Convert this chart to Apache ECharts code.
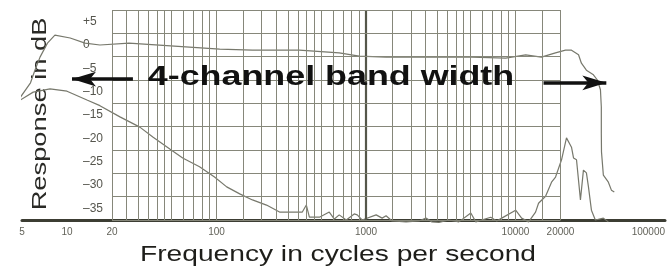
<!DOCTYPE html>
<html>
<head>
<meta charset="utf-8">
<script src="https://cdn.jsdelivr.net/npm/echarts@6/dist/echarts.min.js"></script>
<style>
  html, body { margin: 0; padding: 0; background: #fff; }
  #chart { width: 668px; height: 270px; }
</style>
</head>
<body>
<div id="chart"></div>
<script>
// response curves (Hz / dB)
var mainFreq = [3.9, 4.05, 4.4, 4.9, 5.7, 6.1, 6.6, 7.4, 8.3, 10.5, 13.2, 16.6, 26, 105, 174, 358, 662, 900, 1360, 2260, 5100, 8600, 11700, 14900, 18500, 21600, 23700, 26400, 27600, 29800, 33200, 35300, 37000, 37500, 37500, 37600, 38700, 41800, 43800, 45800];
var mainDb = [-14.6, -12.2, -13.3, -11.1, -8.1, -5.4, -2.6, 0.4, 2.1, 1.5, 0.4, 0, 0.4, -0.9, -1.1, -1.1, -1.7, -2.4, -2.6, -2.6, -2.6, -2.8, -2.1, -2.6, -1.7, -1.1, -1.1, -2.1, -3.9, -5.4, -6.4, -7.5, -9.6, -13.3, -18.9, -22.9, -27.9, -29.4, -31.1, -31.5];

var lowFreq = [4.87, 5.94, 7.7, 10, 13.6, 16.6, 22.6, 30.7, 37.5, 48.7, 59.4, 77, 97, 117, 143, 174, 216, 264, 307, 375, 399, 418, 488, 568, 614, 662, 738, 834, 874, 942, 1169, 1282, 1362, 1494, 1853, 2260, 2518, 2761, 3076, 3584, 4180, 5024, 5425, 6830, 7490, 8090, 10020, 10990, 12240, 13620, 14260, 15890, 17420, 18530, 20320, 21930, 23690, 24440, 25590, 27190, 28470, 29810, 30760, 32200, 34200, 38700, 41800];
var lowDb = [-11.8, -10.1, -9.4, -9.9, -11.8, -13, -15.4, -17.6, -19.7, -22.3, -24.2, -26.1, -28.3, -30.4, -31.9, -33.2, -34.3, -35.8, -35.8, -35.8, -34.3, -36.9, -36.9, -35.8, -37.3, -36.4, -37.5, -36.2, -36.4, -37.5, -36.4, -37.1, -36.6, -37.7, -37.9, -37.7, -37.1, -37.9, -38, -37.5, -37.9, -36, -37.9, -36.9, -37.7, -37.1, -35.4, -37.1, -37.9, -35.8, -33.9, -32.4, -29.4, -28.3, -24.6, -19.9, -21.9, -24.2, -24.6, -33.2, -26.8, -27.4, -30.4, -35.4, -37.5, -37.1, -37.9];

var freqLabels = [5, 10, 20, 100, 1000, 10000, 20000, 100000];
var dbLabels = [5, 0, -5, -10, -15, -20, -25, -30, -35];

// graph paper: log columns 20 Hz..20 kHz, rows every 5 dB (offset half a step)
var paperSteps = [1, 1.5, 2, 2.5, 3, 3.5, 4, 4.5, 5, 6, 7, 8, 9];
var paperDecades = [10, 100, 1000, 10000];
var paperRows = [7.5, 2.5, -2.5, -7.5, -12.5, -17.5, -22.5, -27.5, -32.5, -37.5];
var paperFrom = 20, paperTo = 20000;

// the two band-width arrows: [tail freq, head freq, dB]
var arrowLeft = [27.6, 10.8, -7.3];
var arrowRight = [15400, 40500, -8.1];

function pairs(xs, ys) {
  return xs.map(function (x, i) { return [x, ys[i]]; });
}

var paperLines = [];
paperDecades.forEach(function (d) {
  paperSteps.forEach(function (s) {
    var f = d * s;
    if (f >= paperFrom && f <= paperTo) {
      paperLines.push([
        { coord: [f, paperRows[0]], lineStyle: { width: f === 1000 ? 2.2 : 1, color: f === 1000 ? '#55574a' : '#86877a' } },
        { coord: [f, paperRows[paperRows.length - 1]] }
      ]);
    }
  });
});
paperLines.push([{ coord: [paperTo, paperRows[0]] }, { coord: [paperTo, paperRows[paperRows.length - 1]] }]);
paperRows.forEach(function (r) {
  paperLines.push([{ coord: [paperFrom, r] }, { coord: [paperTo, r] }]);
});

var chart = echarts.init(document.getElementById('chart'), null, { renderer: 'canvas' });
chart.setOption({
  animation: false,
  backgroundColor: '#fff',
  textStyle: { fontFamily: 'Liberation Sans' },
  grid: { left: 22, right: 1, top: 10, bottom: 50 },
  xAxis: {
    type: 'log',
    logBase: 10,
    min: 5,
    max: 100000,
    axisLine: { show: true, onZero: false, lineStyle: { color: '#3c3d33', width: 3 } },
    axisTick: { show: false },
    splitLine: { show: false },
    axisLabel: {
      customValues: freqLabels,
      fontSize: 10,
      color: '#626259',
      margin: 7,
      alignMaxLabel: 'right',
      formatter: function (v) { return String(Math.round(v)); }
    }
  },
  yAxis: {
    type: 'value',
    min: -37.5,
    max: 7.5,
    axisLine: { show: false },
    axisTick: { show: false },
    splitLine: { show: false },
    axisLabel: {
      inside: true,
      margin: 61,
      customValues: dbLabels,
      fontSize: 12,
      color: '#55554d',
      formatter: function (v) {
        if (v > 0) return '+' + v;
        if (v < 0) return '\u2013' + (-v);
        return '0';
      }
    }
  },
  graphic: [
    {
      type: 'text', x: 40, y: 114, rotation: Math.PI / 2, scaleX: 1.3,
      style: { text: 'Response in dB', font: '21px "Liberation Sans"', fill: '#2a2a26', textAlign: 'center', textVerticalAlign: 'middle' }
    },
    {
      type: 'text', x: 338, y: 255, scaleX: 1.28,
      style: { text: 'Frequency in cycles per second', font: '22px "Liberation Sans"', fill: '#1e1e1a', textAlign: 'center', textVerticalAlign: 'middle' }
    },
    {
      type: 'text', x: 331, y: 77, scaleX: 1.28, z: 100,
      style: { text: '4-channel band width', font: 'bold 28px "Liberation Sans"', fill: '#111', textAlign: 'center', textVerticalAlign: 'middle' }
    }
  ],
  series: [
    {
      name: 'paper',
      type: 'line',
      data: [[paperFrom, paperRows[0]]],
      symbol: 'none',
      silent: true,
      lineStyle: { opacity: 0 },
      markLine: {
        silent: true,
        symbol: ['none', 'none'],
        label: { show: false },
        lineStyle: { type: 'solid', color: '#86877a', width: 1 },
        data: paperLines
      }
    },
    {
      name: 'arrows',
      type: 'line',
      data: [[arrowLeft[0], arrowLeft[2]]],
      symbol: 'none',
      silent: true,
      lineStyle: { opacity: 0 },
      z: 5,
      markLine: {
        silent: true,
        symbol: ['none', 'arrow'],
        symbolSize: [11, 24],
        label: { show: false },
        lineStyle: { type: 'solid', color: '#111', width: 3.5 },
        data: [
          [{ coord: [arrowLeft[0], arrowLeft[2]] }, { coord: [arrowLeft[1], arrowLeft[2]] }],
          [{ coord: [arrowRight[0], arrowRight[2]] }, { coord: [arrowRight[1], arrowRight[2]] }]
        ]
      }
    },
    {
      name: 'response',
      type: 'line',
      data: pairs(mainFreq, mainDb),
      symbol: 'none',
      clip: false,
      z: 4,
      lineStyle: { color: '#77786c', width: 1.2 }
    },
    {
      name: 'low',
      type: 'line',
      data: pairs(lowFreq, lowDb),
      symbol: 'none',
      clip: false,
      z: 4,
      lineStyle: { color: '#77786c', width: 1.2 }
    }
  ]
});
</script>
</body>
</html>
